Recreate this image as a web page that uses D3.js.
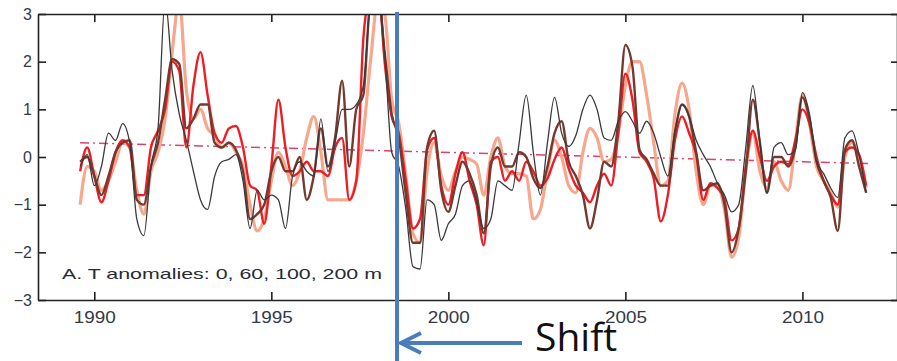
<!DOCTYPE html>
<html>
<head>
<meta charset="utf-8">
<script src="https://cdn.jsdelivr.net/npm/d3@7"></script>
<style>
  html, body { margin: 0; padding: 0; background: #fff; }
  svg { display: block; }
</style>
</head>
<body>
<svg id="chart" width="897" height="361"></svg>
<script>
// Temperature anomaly time series (bi-monthly samples), four depths
const startYear = 1989.6;
const stepYears = 0.2;
const yearTicks = [1990, 1995, 2000, 2005, 2010];
const valueTicks = [-3, -2, -1, 0, 1, 2, 3];
const depthLabels = ["0", "60", "100", "200"];

const t0m = [
  -1.0, -0.2, -0.3, -0.7, -0.5, -0.1, 0.3, 0.2, -0.7, -1.2,
  -0.3, 0.1, 0.8, 2.2, 3.3, 1.4, 0.8, 1.0, 0.6, 0.45,
  0.2, 0.3, 0.1, -0.2, -1.0, -1.55, -1.3, -0.5, 0.1, -0.2,
  -0.6, -0.3, 0.4, 0.85, 0.1, -0.9, -0.9, -0.9, -0.9, -0.5,
  0.5, 2.0, 3.2, 3.0, 1.2, 0.7, -0.4, -1.6, -1.8, -0.3,
  0.3, -0.4, -0.7, -0.3, 0.0, -0.05, -0.15, -0.8, 0.0, 0.4,
  -0.2, -0.35, -0.35, -0.4, -1.3, -1.1, -0.3, 0.35, 0.0, -0.6,
  -0.75, 0.1, 0.6, 0.4, -0.1, -0.05, 0.5, 1.5, 2.0, 2.0,
  1.3, 0.3, -0.6, -0.5, 0.9, 1.55, 1.0, -0.3, -1.0, -0.6,
  -0.6, -1.1, -2.1, -1.7, -0.3, 0.5, -0.3, -0.65, -0.1, -0.5,
  -0.7, 0.3, 1.3, 0.7, -0.2, -0.5, -0.75, -1.05, 0.0, 0.3,
  0.0, -0.65
];
const t60m = [
  -0.3, 0.2, -0.4, -0.95, -0.5, 0.1, 0.35, 0.2, -0.8, -0.8,
  0.2, 0.55, 1.0, 2.0, 1.8, 0.2, 1.5, 2.2, 1.3, 0.5,
  0.3, 0.6, 0.65, 0.2, -0.6, -0.7, -1.4, -0.2, 1.2, 0.2,
  -0.4, -0.3, -0.1, -0.3, -0.3, -0.4, 0.2, 0.4, -0.9, -0.5,
  2.5, 3.5, 3.8, 2.0, 0.85, 0.5, -0.5, -1.5, -1.3, 0.15,
  0.4, -0.6, -1.0, -0.35, 0.1, -0.5, -1.0, -1.85, -0.1, 0.0,
  -0.5, -0.3, -0.5, -0.1, -0.3, -0.6, -0.45, -0.05, 0.2, -0.25,
  -0.6, -0.75, -0.95, -0.6, -0.35, -0.6, 0.5, 1.75, 1.2, 0.1,
  -0.1, -0.45, -1.35, -0.8, 0.35, 0.85, 0.5, 0.05, -0.9, -0.55,
  -0.65, -0.9, -1.75, -1.5, -0.2, 0.55, 0.0, -0.5, -0.2, -0.1,
  -0.15, 0.35, 1.0, 0.7, 0.0, -0.5, -0.8, -1.0, 0.1, 0.2,
  0.05, -0.6
];
const t100m = [
  -0.1, 0.0, -0.4, -0.8, -0.4, 0.1, 0.3, 0.35, -0.9, -1.0,
  -0.2, 0.3, 1.2, 2.05, 1.95, 0.6, 0.8, 1.1, 1.1, 0.3,
  0.2, 0.3, 0.15, -0.3, -1.3, -1.2, -1.0, -0.3, 0.0, -0.3,
  -0.3, 0.0, -0.9, -0.4, 0.6, -0.2, 0.4, 1.6, -0.2, 1.0,
  1.3, 3.3, 3.5, 2.2, 0.9, 0.4, -0.8, -1.8, -1.8, 0.2,
  0.55, -0.7, -1.15, -0.6, -0.1, -0.35, -0.8, -1.6, -0.2, 0.2,
  -0.2, -0.2, 0.1, 0.0, -0.45, -0.65, -0.2, 0.5, 0.75, -0.1,
  -0.4, -0.8, -1.5, -0.9, -0.1, -0.2, 0.75, 2.35, 1.9, 0.15,
  -0.05, -0.35, -0.6, -0.6, 0.5, 1.1, 0.85, 0.1, -0.7, -0.6,
  -0.55, -1.0, -2.0, -1.5, -0.3, 1.2, 0.3, -0.75, 0.0, 0.0,
  -0.2, 0.2, 1.25, 0.8, -0.1, -0.5, -0.85, -1.55, 0.15, 0.35,
  -0.2, -0.75
];
const t200m = [
  -0.2, 0.05, -0.6, -0.2, 0.5, 0.35, 0.7, 0.3, -1.3, -1.65,
  -0.2, 0.6, 3.3, 1.8, 0.9, 0.35, -0.3, -0.9, -1.1, -0.4,
  -0.1, -0.05, 0.05, -0.5, -1.5, -0.7, -0.9, -0.8, -0.9, -1.5,
  -0.4, -0.1, -0.3, -0.4, 0.8, -0.3, 0.3, 1.0, 1.0, 1.1,
  1.5, 3.2, 3.5, 2.2, 0.1, -0.2, -1.1, -2.3, -2.35, -0.9,
  -1.0, -1.75, -1.4, -1.2, -0.6, -0.5, -0.95, -1.5, -1.3, -0.5,
  -0.6, -0.7, 0.3, 1.3, 0.1, -0.8, 0.3, 1.25, 0.5, 0.22,
  0.45, 1.0, 1.3, 1.0, 0.4, 0.35, 0.75, 0.95, 0.75, 0.5,
  0.75, 0.5, 0.0, -0.4, 0.55, 1.1, 0.85, 0.35, 0.05, -0.2,
  -0.55, -0.8, -1.15, -1.0, 0.2, 1.5, 0.3, -0.75, 0.2, 0.3,
  0.05, 0.15, 1.35, 0.9, -0.1, -0.35, -0.65, -0.85, 0.4, 0.55,
  0.05, -0.75
];

// Linear trend (dash-dot)
const trendYears = [1989.6, 2011.85];
const trendValues = [0.30, -0.135];

// Year of the regime shift marker
const shiftYear = 1998.55;
const shiftLabel = "Shift";

const seriesList = [
  { name: "0 m",   values: t0m,   color: "#f6a78c", width: 3.2 },
  { name: "60 m",  values: t60m,  color: "#ee1d24", width: 2.4 },
  { name: "100 m", values: t100m, color: "#76392f", width: 2.4 },
  { name: "200 m", values: t200m, color: "#3a3a3a", width: 1.3 }
];

const svg = d3.select("#chart");
const plotL = 38, plotR = 898, plotT = 14, plotB = 300;

const x = d3.scaleLinear().domain([1988.41, 2012.70]).range([plotL, plotR]);
const y = d3.scaleLinear().domain([-3, 3]).range([plotB, plotT]);

svg.append("rect").attr("width", 897).attr("height", 361).attr("fill", "#fff");

svg.append("defs").append("clipPath").attr("id", "plotClip")
  .append("rect")
  .attr("x", plotL).attr("y", plotT)
  .attr("width", plotR - plotL).attr("height", plotB - plotT);

const plot = svg.append("g").attr("clip-path", "url(#plotClip)");

// Trend line
plot.append("path")
  .datum(trendYears.map((t, i) => [t, trendValues[i]]))
  .attr("fill", "none")
  .attr("stroke", "#d8436c")
  .attr("stroke-width", 1.4)
  .attr("stroke-dasharray", "9,4,2,4")
  .attr("d", d3.line().x(d => x(d[0])).y(d => y(d[1])));

// Anomaly series
const line = d3.line()
  .x((d, i) => x(startYear + i * stepYears))
  .y(d => y(d))
  .curve(d3.curveMonotoneX);

seriesList.forEach(s => {
  plot.append("path")
    .datum(s.values)
    .attr("fill", "none")
    .attr("stroke", s.color)
    .attr("stroke-width", s.width)
    .attr("stroke-linejoin", "round")
    .attr("d", line);
});

// Axes (ticks pointing inward on all four sides)
const fmtVal = d => (d < 0 ? "\u2212" + Math.abs(d) : String(d));
const axisColor = "#222";

function styleAxis(g) {
  g.select(".domain").attr("stroke", axisColor).attr("stroke-width", 1.6);
  g.selectAll(".tick line").attr("stroke", axisColor).attr("stroke-width", 1.6);
  g.selectAll(".tick text")
    .attr("fill", "#343a44")
    .style("font-family", "'Liberation Sans', Arial, sans-serif")
    .style("font-size", "16px");
}

svg.append("g")
  .attr("transform", `translate(${plotL},0)`)
  .call(d3.axisLeft(y).tickValues(valueTicks).tickFormat(fmtVal)
    .tickSize(-8).tickSizeOuter(0).tickPadding(6))
  .call(styleAxis);

svg.append("g")
  .attr("transform", `translate(0,${plotB})`)
  .call(d3.axisBottom(x).tickValues(yearTicks).tickFormat(d3.format("d"))
    .tickSize(-8).tickSizeOuter(0).tickPadding(12))
  .call(styleAxis)
  .call(g => g.selectAll(".tick text")
    .attr("textLength", 42).attr("lengthAdjust", "spacingAndGlyphs"));

svg.append("g")
  .attr("transform", `translate(0,${plotT})`)
  .call(d3.axisTop(x).tickValues(yearTicks).tickFormat("")
    .tickSize(-8).tickSizeOuter(0))
  .call(styleAxis);

svg.append("g")
  .attr("transform", `translate(${plotR - 1},0)`)
  .call(d3.axisRight(y).tickValues(valueTicks).tickFormat("")
    .tickSize(-6).tickSizeOuter(0))
  .call(styleAxis);

// Depth legend
svg.append("text")
  .attr("x", 62).attr("y", 279)
  .attr("textLength", 320).attr("lengthAdjust", "spacingAndGlyphs")
  .attr("fill", "#262a33")
  .style("font-family", "'Liberation Sans', Arial, sans-serif")
  .style("font-size", "15px")
  .text("A. T anomalies: " + depthLabels.join(", ") + " m");

// Shift marker: vertical line and arrow
const blue = "#4a7ebb";
const sx = x(shiftYear);
svg.append("line")
  .attr("x1", sx).attr("x2", sx)
  .attr("y1", 12).attr("y2", 361)
  .attr("stroke", blue).attr("stroke-width", 4);

const ay = 343;
svg.append("line")
  .attr("x1", sx + 3).attr("x2", sx + 125)
  .attr("y1", ay).attr("y2", ay)
  .attr("stroke", blue).attr("stroke-width", 4);
svg.append("path")
  .attr("d", `M${sx + 24},${ay - 10} L${sx + 4},${ay} L${sx + 24},${ay + 10}`)
  .attr("fill", "none")
  .attr("stroke", blue).attr("stroke-width", 4)
  .attr("stroke-linejoin", "miter");

svg.append("text")
  .attr("x", 535).attr("y", 351)
  .attr("fill", "#111")
  .style("font-family", "'Open Sans', 'Noto Sans', sans-serif")
  .style("font-size", "39px")
  .text(shiftLabel);
</script>
</body>
</html>
